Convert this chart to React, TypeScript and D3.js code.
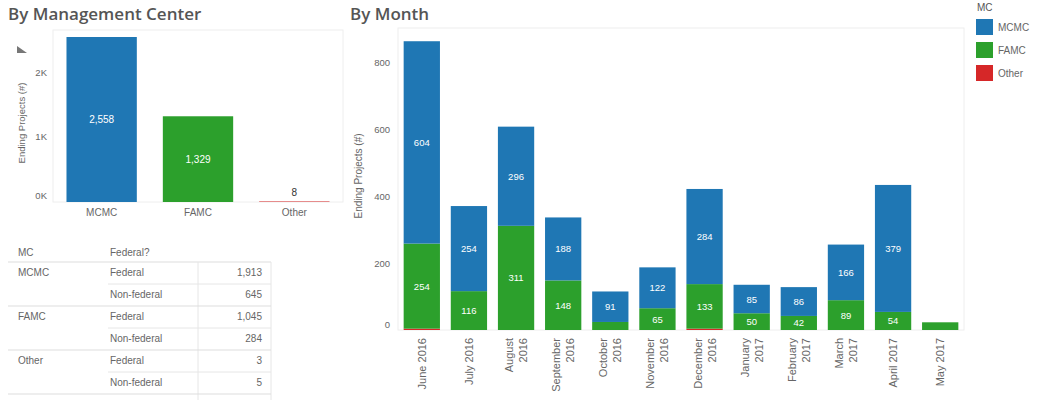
import React from "react";
import * as d3 from "d3";

// ---- Data ----
const mcCategories = ["MCMC", "FAMC", "Other"];
const mcTotals = [2558, 1329, 8];
const mcTicks = [0, 1000, 2000];

const months = [
  "June 2016", "July 2016", "August 2016", "September 2016", "October 2016", "November 2016",
  "December 2016", "January 2017", "February 2017", "March 2017", "April 2017", "May 2017",
];
const monthLabelLines = [
  ["June 2016"], ["July 2016"], ["August", "2016"], ["September", "2016"], ["October", "2016"],
  ["November", "2016"], ["December", "2016"], ["January", "2017"], ["February", "2017"],
  ["March", "2017"], ["April 2017"], ["May 2017"],
];
const mcmcByMonth = [604, 254, 296, 188, 91, 122, 284, 85, 86, 166, 379, 0];
const famcByMonth = [254, 116, 311, 148, 24, 65, 133, 50, 42, 89, 54, 23];
const otherByMonth = [4, 0, 0, 0, 0, 0, 4, 0, 0, 0, 0, 0];
const monthTicks = [0, 200, 400, 600, 800];

const tableHeader = ["MC", "Federal?"];
const tableMC = ["MCMC", "FAMC", "Other"];
const federalLabels = ["Federal", "Non-federal"];
const federalValues = [1913, 1045, 3];
const nonFederalValues = [645, 284, 5];

const legendKeys = ["MCMC", "FAMC", "Other"];
const colors: Record<string, string> = { MCMC: "#1f77b4", FAMC: "#2ca02c", Other: "#d62728" };

const FONT = "'Liberation Sans', Arial, sans-serif";
const TITLE_FONT = "'Open Sans', 'Liberation Sans', sans-serif";
const fmt = d3.format(",");

export default function App() {
  // ---- Left chart ----
  const lp = { x0: 53, x1: 343, y0: 30, y1: 202 };
  const lx = d3.scaleBand<string>().domain(mcCategories).range([lp.x0, lp.x1]).paddingInner(0.27).paddingOuter(0.14);
  const ly = d3.scaleLinear().domain([0, 2558]).range([lp.y1, 37]);

  // ---- Month chart ----
  const mp = { x0: 398, x1: 964, y0: 28, y1: 330 };
  const mx = d3.scaleBand<string>().domain(months).range([mp.x0, mp.x1]).paddingInner(0.23).paddingOuter(0.12);
  const my = d3.scaleLinear().domain([0, 800]).range([mp.y1, 62]);
  const rows = months.map((m, i) => ({ month: m, MCMC: mcmcByMonth[i], FAMC: famcByMonth[i], Other: otherByMonth[i] }));
  const stack = d3.stack<any>().keys(["Other", "FAMC", "MCMC"])(rows);

  const gray = "#666";
  const rowH = 22;
  const tableTop = 252;

  return (
    <svg width={1037} height={400} style={{ position: "absolute", left: 0, top: 0, background: "#fff" }} fontFamily={FONT}>
      {/* Titles */}
      <text x={8} y={20} fontSize={17} fill="#555" fontFamily={TITLE_FONT} fontWeight={600}>By Management Center</text>
      <text x={350} y={20} fontSize={17} fill="#555" fontFamily={TITLE_FONT} fontWeight={600}>By Month</text>

      {/* Left chart pane */}
      <rect x={lp.x0} y={lp.y0} width={lp.x1 - lp.x0} height={lp.y1 - lp.y0} fill="none" stroke="#eee" />
      {mcTicks.map((t, i) => (
        <text key={t} x={47} y={ly(t) + (i === 0 ? -3 : 3)} fontSize={9.5} fill={gray} textAnchor="end">{t / 1000}K</text>
      ))}
      <text transform={`translate(25,${(lp.y0 + lp.y1) / 2 + 7}) rotate(-90)`} fontSize={9.5} fill={gray} textAnchor="middle">Ending Projects (#)</text>
      <path d="M17,46 L27,53 L17,53 Z" fill="#777" />
      {mcCategories.map((c, i) => {
        const x = lx(c)!;
        const w = lx.bandwidth();
        const y = ly(mcTotals[i]);
        const h = lp.y1 - y;
        return (
          <g key={c}>
            <rect x={x} y={y} width={w} height={h} fill={colors[c]} />
            {h >= 12 ? (
              <text x={x + w / 2} y={y + h / 2 + 3.5} fontSize={10} fill="#fff" textAnchor="middle">{fmt(mcTotals[i])}</text>
            ) : (
              <text x={x + w / 2} y={y - 5} fontSize={10} fill="#333" textAnchor="middle">{fmt(mcTotals[i])}</text>
            )}
            <text x={x + w / 2} y={216} fontSize={10} fill={gray} textAnchor="middle">{c}</text>
          </g>
        );
      })}

      {/* Table */}
      <text x={18} y={tableTop + 4} fontSize={10} fill={gray}>{tableHeader[0]}</text>
      <text x={110} y={tableTop + 4} fontSize={10} fill={gray}>{tableHeader[1]}</text>
      <line x1={8} x2={271} y1={tableTop + 10} y2={tableTop + 10} stroke="#ddd" />
      <line x1={198} x2={198} y1={tableTop + 10} y2={400} stroke="#e6e6e6" />
      <line x1={271} x2={271} y1={tableTop + 10} y2={400} stroke="#e6e6e6" />
      {tableMC.map((mc, i) => {
        const y0 = tableTop + 10 + i * 2 * rowH;
        return (
          <g key={mc}>
            <text x={18} y={y0 + 14} fontSize={10} fill={gray}>{mc}</text>
            <text x={110} y={y0 + 14} fontSize={10} fill={gray}>{federalLabels[0]}</text>
            <text x={262} y={y0 + 14} fontSize={10} fill={gray} textAnchor="end">{fmt(federalValues[i])}</text>
            <line x1={108} x2={271} y1={y0 + rowH} y2={y0 + rowH} stroke="#e6e6e6" />
            <text x={110} y={y0 + rowH + 14} fontSize={10} fill={gray}>{federalLabels[1]}</text>
            <text x={262} y={y0 + rowH + 14} fontSize={10} fill={gray} textAnchor="end">{fmt(nonFederalValues[i])}</text>
            <line x1={8} x2={271} y1={y0 + 2 * rowH} y2={y0 + 2 * rowH} stroke="#ddd" />
          </g>
        );
      })}

      {/* Month chart pane */}
      <rect x={mp.x0} y={mp.y0} width={mp.x1 - mp.x0} height={mp.y1 - mp.y0} fill="none" stroke="#eee" />
      {monthTicks.map((t, i) => (
        <text key={t} x={390} y={my(t) + (i === 0 ? -2 : 3.5)} fontSize={9.5} fill={gray} textAnchor="end">{t}</text>
      ))}
      <text transform={`translate(362,${176}) rotate(-90)`} fontSize={10} fill={gray} textAnchor="middle">Ending Projects (#)</text>
      {stack.map((layer) => (
        <g key={layer.key} fill={colors[layer.key]}>
          {layer.map((d, i) => {
            const y = my(d[1]);
            const h = my(d[0]) - my(d[1]);
            if (h <= 0) return null;
            return <rect key={i} x={mx(months[i])!} y={y} width={mx.bandwidth()} height={h} />;
          })}
        </g>
      ))}
      {stack.map((layer) => (
        <g key={layer.key + "-lbl"}>
          {layer.map((d, i) => {
            const y = my(d[1]);
            const h = my(d[0]) - my(d[1]);
            if (h < 12) return null;
            return (
              <text key={i} x={mx(months[i])! + mx.bandwidth() / 2} y={y + h / 2 + 3.5} fontSize={9.5} fill="#fff" textAnchor="middle">
                {fmt(d[1] - d[0])}
              </text>
            );
          })}
        </g>
      ))}
      {months.map((m, i) => {
        const cx = mx(m)! + mx.bandwidth() / 2;
        const lines = monthLabelLines[i];
        return (
          <g key={m}>
            {lines.map((ln, j) => {
              const off = lines.length === 1 ? 4 : (j === 0 ? -3 : 11);
              return (
                <text key={j} transform={`translate(${cx + off},338) rotate(-90)`} fontSize={11} fill={gray} textAnchor="end">{ln}</text>
              );
            })}
          </g>
        );
      })}

      {/* Legend */}
      <text x={977} y={11} fontSize={10} fill="#555">MC</text>
      {legendKeys.map((k, i) => (
        <g key={k}>
          <rect x={976} y={19 + i * 23} width={17} height={16} fill={colors[k]} />
          <text x={998} y={31 + i * 23} fontSize={10} fill={gray}>{k}</text>
        </g>
      ))}
    </svg>
  );
}
